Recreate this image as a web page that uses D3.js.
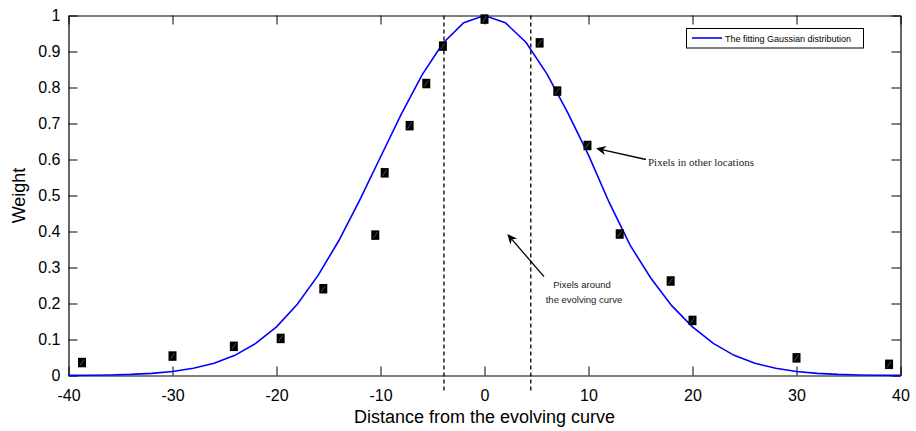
<!DOCTYPE html>
<html>
<head>
<meta charset="utf-8">
<script src="https://cdn.jsdelivr.net/npm/d3@7"></script>
<style>
  html, body { margin: 0; padding: 0; background: #fff; }
  svg { display: block; }
</style>
</head>
<body>
<svg id="chart" width="916" height="431"></svg>
<script>
// ---- data ----
const xTicks = [-40, -30, -20, -10, 0, 10, 20, 30, 40];
const yTicks = [0, 0.1, 0.2, 0.3, 0.4, 0.5, 0.6, 0.7, 0.8, 0.9, 1];
const yTickLabels = ["0", "0.1", "0.2", "0.3", "0.4", "0.5", "0.6", "0.7", "0.8", "0.9", "1"];

const sampleX = [-38.7, -30, -24.1, -19.6, -15.5, -10.5, -9.6, -7.2, -5.6, -4.0, 0, 5.3, 7, 9.9, 13, 17.9, 20, 30, 38.9];
const sampleW = [0.036, 0.054, 0.081, 0.103, 0.241, 0.390, 0.563, 0.694, 0.811, 0.915, 0.990, 0.924, 0.790, 0.639, 0.393, 0.2625, 0.153, 0.049, 0.031];

const curveX = [-40, -38, -36, -34, -32, -30, -28, -26, -24, -22, -20, -18, -16, -14, -12, -10, -8, -6, -4, -2, 0,
                2, 4, 6, 8, 10, 12, 14, 16, 18, 20, 22, 24, 26, 28, 30, 32, 34, 36, 38, 40];
const curveW = [0.0003, 0.0007, 0.0015, 0.003, 0.006, 0.011, 0.020, 0.034, 0.056, 0.089, 0.135, 0.198, 0.278, 0.375, 0.487, 0.607, 0.726, 0.835, 0.923, 0.980, 1.0,
                0.980, 0.925, 0.838, 0.730, 0.612, 0.480, 0.362, 0.270, 0.194, 0.135, 0.089, 0.056, 0.034, 0.020, 0.011, 0.006, 0.003, 0.0015, 0.0007, 0.0003];

const dashedX = [-3.9, 4.45];

const legendLabel = "The fitting Gaussian distribution";
const xTitle = "Distance from the evolving curve";
const yTitle = "Weight";
const note1 = "Pixels in other locations";
const note2 = ["Pixels around", "the evolving curve"];

// ---- layout ----
const SANS = "'Liberation Sans', Arial, Helvetica, sans-serif";
const SERIF = "'Liberation Serif', 'Times New Roman', Times, serif";
const svg = d3.select("#chart");
const L = 68.5, R = 900.5, T = 15.5, B = 375.5;
const x = d3.scaleLinear().domain([-40, 40]).range([L, R]);
const y = d3.scaleLinear().domain([0, 1]).range([B, T]);
const tickLen = 9;

svg.append("rect").attr("width", 916).attr("height", 431).attr("fill", "#fff");

// dashed vertical lines
svg.append("g").selectAll("line").data(dashedX).join("line")
  .attr("x1", d => x(d)).attr("x2", d => x(d))
  .attr("y1", y(1)).attr("y2", y(-0.045))
  .attr("stroke", "#000").attr("stroke-width", 1.3)
  .attr("stroke-dasharray", "4,3");

// axes
const fontTick = 16;
const gx = svg.append("g").attr("transform", `translate(0,${B})`)
  .call(d3.axisBottom(x).tickValues(xTicks).tickSizeInner(-tickLen).tickSizeOuter(0).tickPadding(14)
    .tickFormat(d => String(d)));
const gxt = svg.append("g").attr("transform", `translate(0,${T})`)
  .call(d3.axisTop(x).tickValues(xTicks).tickSizeInner(-tickLen).tickSizeOuter(0).tickFormat(""));
const gy = svg.append("g").attr("transform", `translate(${L},0)`)
  .call(d3.axisLeft(y).tickValues(yTicks).tickSizeInner(-tickLen).tickSizeOuter(0).tickPadding(8)
    .tickFormat((d, i) => yTickLabels[i]));
const gyr = svg.append("g").attr("transform", `translate(${R},0)`)
  .call(d3.axisRight(y).tickValues(yTicks).tickSizeInner(-tickLen).tickSizeOuter(0).tickFormat(""));

[gx, gxt, gy, gyr].forEach(g => {
  g.attr("font-family", null).attr("font-size", null);
  g.select(".domain").attr("stroke", "#000").attr("stroke-width", 1.2);
  g.selectAll(".tick line").attr("stroke", "#000").attr("stroke-width", 1);
  g.selectAll("text").style("font-size", fontTick + "px").attr("fill", "#000")
    .style("font-family", SANS);
});
gx.selectAll(".tick text").attr("dy", "0.71em");

// curve
const line = d3.line().x((d, i) => x(curveX[i])).y(d => y(d));
svg.append("path").datum(curveW)
  .attr("d", line)
  .attr("fill", "none").attr("stroke", "#0000ff").attr("stroke-width", 1.6);

// markers
const mw = 8, mh = 9.5;
const mk = svg.append("g").selectAll("g").data(sampleW).join("g")
  .attr("transform", (d, i) => `translate(${x(sampleX[i])},${y(d)})`);
mk.append("rect").attr("x", -mw / 2).attr("y", -mh / 2).attr("width", mw).attr("height", mh)
  .attr("fill", "#000");
mk.append("line").attr("x1", -2).attr("y1", 3).attr("x2", 2).attr("y2", -3)
  .attr("stroke", "#888").attr("stroke-width", 0.6);

// legend
const lg = svg.append("g");
lg.append("rect").attr("x", 686.5).attr("y", 28.5).attr("width", 177).attr("height", 19.5)
  .attr("fill", "#fff").attr("stroke", "#000").attr("stroke-width", 1);
lg.append("line").attr("x1", 692).attr("x2", 722).attr("y1", 38).attr("y2", 38)
  .attr("stroke", "#0000ff").attr("stroke-width", 1.6);
lg.append("text").attr("x", 725).attr("y", 41.5).style("font-size", "9px").style("font-family", SANS)
  .attr("fill", "#000").text(legendLabel);

// annotation arrows
function arrow(x1, y1, x2, y2) {
  const g = svg.append("g");
  const ang = Math.atan2(y2 - y1, x2 - x1);
  const hl = 10, hw = 4.5, back = 3;
  const bx = x2 - hl * Math.cos(ang), by = y2 - hl * Math.sin(ang);
  const nx = -Math.sin(ang), ny = Math.cos(ang);
  const nbx = x2 - (hl - back) * Math.cos(ang), nby = y2 - (hl - back) * Math.sin(ang);
  g.append("line").attr("x1", x1).attr("y1", y1).attr("x2", nbx).attr("y2", nby)
    .attr("stroke", "#000").attr("stroke-width", 1.3);
  g.append("path")
    .attr("d", `M${x2},${y2}L${bx + nx * hw},${by + ny * hw}L${nbx},${nby}L${bx - nx * hw},${by - ny * hw}Z`)
    .attr("fill", "#000");
}
arrow(646, 159.5, 596, 148.3);
arrow(544, 276.7, 507.3, 234);

svg.append("text").attr("x", 648).attr("y", 165.5)
  .style("font-size", "11px").style("font-family", SERIF).attr("fill", "#222")
  .text(note1);
svg.append("g").selectAll("text").data(note2).join("text")
  .attr("x", (d, i) => i === 0 ? 582 : 584).attr("y", (d, i) => 287.5 + i * 15)
  .attr("text-anchor", "middle").style("font-size", "9.5px").style("font-family", SANS)
  .attr("fill", "#222").text(d => d);

// axis titles
svg.append("text").attr("x", (L + R) / 2).attr("y", 423).attr("text-anchor", "middle")
  .style("font-size", "18px").style("font-family", SANS).attr("fill", "#000").text(xTitle);
svg.append("text").attr("transform", `translate(25,${(T + B) / 2}) rotate(-90)`)
  .attr("text-anchor", "middle").style("font-size", "18px").style("font-family", SANS)
  .attr("fill", "#000").text(yTitle);
</script>
</body>
</html>
